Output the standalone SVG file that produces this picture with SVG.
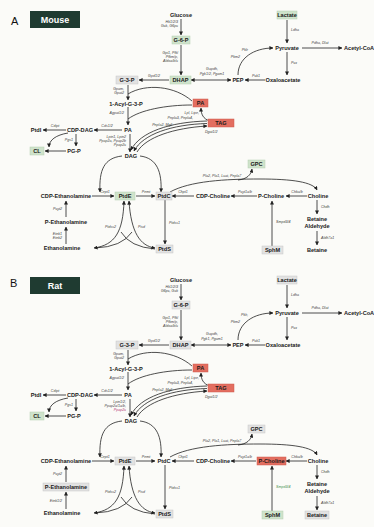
<svg xmlns="http://www.w3.org/2000/svg" width="374" height="527" viewBox="0 0 374 527">
<defs>
<marker id="ah" viewBox="0 0 10 10" refX="9" refY="5" markerWidth="4" markerHeight="4" markerUnits="userSpaceOnUse" orient="auto-start-reverse">
<path d="M0 0L10 5L0 10z" fill="#222"/>
</marker>
<style>
.m{font:bold 5.6px "Liberation Sans",Arial,sans-serif;fill:#1a1a1a;text-anchor:middle}
.g{font:italic 3.6px "Liberation Sans",Arial,sans-serif;fill:#3c3c3c}
.e{text-anchor:end}.c{text-anchor:middle}
.pk{fill:#b03070}.gr{fill:#3f8f4f}
.bg{fill:#cfe3cb;stroke:#b4ceb0;stroke-width:.5}
.bn{fill:#e2e2e2;stroke:#c6c6c6;stroke-width:.5}
.br{fill:#e36e60;stroke:#cd5b4e;stroke-width:.5}
.ln path{fill:none;stroke:#222;stroke-width:.8}
.tag{font:bold 9px "Liberation Sans",Arial,sans-serif;fill:#fff;text-anchor:middle}
.let{font:11px "Liberation Sans",Arial,sans-serif;fill:#111}
</style>
</defs>
<rect width="374" height="527" fill="#fbfbf8"/>

<!-- ===== Panel A: mouse ===== -->
<g id="panel-a">
<g id="a-title"><text class="let" x="11" y="25">A</text><rect x="30" y="11" width="50" height="17" fill="#1f3b31"/><text class="tag" x="55" y="22.5">Mouse</text></g>

<g id="a-links" class="ln">
<path d="M181 19V35" marker-end="url(#ah)"/>
<path d="M181 45V75" marker-end="url(#ah)"/>
<path d="M169 80H139" marker-end="url(#ah)"/>
<path d="M191 80H231" marker-start="url(#ah)" marker-end="url(#ah)"/>
<path d="M265 80H245" marker-end="url(#ah)"/>
<path d="M238 75C238 58 254 48 273 48" marker-end="url(#ah)"/>
<path d="M287 20V43" marker-end="url(#ah)"/>
<path d="M287 52V75" marker-end="url(#ah)"/>
<path d="M302 48H342" marker-end="url(#ah)"/>
<path d="M128 85V100" marker-end="url(#ah)"/>
<path d="M128 107V125" marker-end="url(#ah)"/>
<path d="M192 101C175 86 146 83 128 94"/>
<path d="M192 105C166 105 140 110 128 119"/>
<path d="M210 121C203 119 201 114 201 108" marker-end="url(#ah)"/>
<path d="M207 121C170 122 140 132 131 150" marker-end="url(#ah)"/>
<path d="M207 123.5C172 124.5 143 134 134 151" marker-end="url(#ah)"/>
<path d="M137 152C146 137 174 128 207 126" marker-end="url(#ah)"/>
<path d="M122 130H94" marker-end="url(#ah)"/>
<path d="M66 130H43" marker-end="url(#ah)"/>
<path d="M76 134V146" marker-end="url(#ah)"/>
<path d="M66 151H45" marker-end="url(#ah)"/>
<path d="M68 133C56 135 49 140 49 147" marker-end="url(#ah)"/>
<path d="M130 134V152" marker-end="url(#ah)"/>
<path d="M122 156C104 158 99 170 100 192" marker-end="url(#ah)"/>
<path d="M140 156C157 158 162 172 161 192" marker-end="url(#ah)"/>
<path d="M92 196H114" marker-end="url(#ah)"/>
<path d="M136 196H155" marker-end="url(#ah)"/>
<path d="M194 196H172" marker-end="url(#ah)"/>
<path d="M257 196H231" marker-end="url(#ah)"/>
<path d="M307 196H286" marker-end="url(#ah)"/>
<path d="M317 200V214" marker-end="url(#ah)"/>
<path d="M317 231V245" marker-end="url(#ah)"/>
<path d="M272 246V201" marker-end="url(#ah)"/>
<path d="M170 192C190 181 225 179 260 179C292 179 313 182 317 190" marker-end="url(#ah)"/>
<path d="M238 180C247 179 251 175 252 169" marker-end="url(#ah)"/>
<path d="M165 200V244" marker-end="url(#ah)"/>
<path d="M124 201C123 232 115 245 94 248" marker-start="url(#ah)" marker-end="url(#ah)"/>
<path d="M129 201C131 232 140 246 155 248" marker-start="url(#ah)" marker-end="url(#ah)"/>
<path d="M121 232Q130 247 155 249"/>
<path d="M132 232Q122 247 95 248"/>
<path d="M66 217V201" marker-end="url(#ah)"/>
<path d="M66 244V227" marker-end="url(#ah)"/>
</g>

<g id="a-enzymes">
<text class="g e" x="178" y="23">Hk1/2/3</text><text class="g e" x="178" y="27">Gck, G6pc</text>
<text class="g e" x="178" y="54">Gpi1, Pfkl</text><text class="g e" x="178" y="58">Pfkm/p,</text><text class="g e" x="178" y="62">Aldoa/b/c</text>
<text class="g c" x="154" y="77">Gpd1/2</text>
<text class="g c" x="212" y="70">Gapdh,</text><text class="g c" x="212" y="75">Pgk1/2, Pgam1</text>
<text class="g c" x="256" y="77">Pck1</text>
<text class="g e" x="248" y="51">Pklr</text><text class="g e" x="240" y="58">Pkm2</text>
<text class="g" x="291" y="31">Ldha</text>
<text class="g" x="291" y="64">Pcx</text>
<text class="g c" x="320" y="44">Pdha, Dlat</text>
<text class="g e" x="124" y="90">Gpam,</text><text class="g e" x="124" y="94">Gpat2</text>
<text class="g e" x="124" y="114">Agpat1/2</text>
<text class="g e" x="199" y="114">Lpl, Lipe,</text><text class="g e" x="193" y="119">Pnpla3, Pnpla4,</text><text class="g e" x="172" y="126">Pnpla2, Mgll</text>
<text class="g" x="205" y="133">Dgat1/2</text>
<text class="g c" x="107" y="127">Cds1/2</text>
<text class="g c" x="55" y="127">Cdipt</text>
<text class="g e" x="73" y="141">Pgs1</text>
<text class="g e" x="126" y="138">Lpin1, Lpin2</text><text class="g e" x="126" y="142">Ppap2a, Ppap2b</text><text class="g e" x="126" y="146">Ppap2c</text>
<text class="g c" x="105" y="193">Cept1</text>
<text class="g c" x="146" y="193">Pemt</text>
<text class="g c" x="183" y="193">Chpt1</text>
<text class="g c" x="245" y="193">Pcyt1a/b</text>
<text class="g c" x="297" y="193">Chka/b</text>
<text class="g" x="321" y="208">Chdh</text>
<text class="g" x="321" y="239">Aldh7a1</text>
<text class="g" x="276" y="223">Smpd3/4</text>
<text class="g c" x="222" y="177">Pla2, Pla1, Lcat, Pnpla7</text>
<text class="g" x="169" y="224">Ptdss1</text>
<text class="g e" x="116" y="228">Ptdss2</text>
<text class="g" x="138" y="228">Pisd</text>
<text class="g e" x="62" y="210">Pcyt2</text>
<text class="g e" x="62" y="235">Etnk1</text><text class="g e" x="62" y="239">Etnk2</text>
</g>

<g id="a-glucose"><text class="m" x="181" y="17">Glucose</text></g>
<g id="a-g6p"><rect class="bg" x="172" y="36" width="18" height="8"/><text class="m" x="181" y="42">G-6-P</text></g>
<g id="a-dhap"><rect class="bg" x="170" y="76" width="21" height="8"/><text class="m" x="180.5" y="82">DHAP</text></g>
<g id="a-g3p"><rect class="bn" x="116" y="76" width="22" height="8"/><text class="m" x="127" y="82">G-3-P</text></g>
<g id="a-pep"><text class="m" x="238" y="82">PEP</text></g>
<g id="a-oaa"><text class="m" x="283" y="82">Oxaloacetate</text></g>
<g id="a-pyruvate"><text class="m" x="287" y="50">Pyruvate</text></g>
<g id="a-lactate"><rect class="bg" x="277" y="11" width="20" height="8"/><text class="m" x="287" y="17">Lactate</text></g>
<g id="a-acetylcoa"><text class="m" x="344" y="50" style="text-anchor:start">Acetyl-CoA</text></g>
<g id="a-acylg3p"><text class="m" x="126" y="106">1-Acyl-G-3-P</text></g>
<g id="a-pa-red"><rect class="br" x="193" y="99" width="15" height="8"/><text class="m" x="200.5" y="105">PA</text></g>
<g id="a-tag"><rect class="br" x="208" y="119" width="26" height="8"/><text class="m" x="221" y="125">TAG</text></g>
<g id="a-pa"><text class="m" x="128" y="132">PA</text></g>
<g id="a-cdpdag"><text class="m" x="80" y="132">CDP-DAG</text></g>
<g id="a-ptdi"><text class="m" x="36" y="132">PtdI</text></g>
<g id="a-pgp"><text class="m" x="74" y="153">PG-P</text></g>
<g id="a-cl"><rect class="bg" x="30" y="147" width="14" height="8"/><text class="m" x="37" y="153">CL</text></g>
<g id="a-dag"><text class="m" x="131" y="158">DAG</text></g>
<g id="a-cdpetn"><text class="m" x="66" y="198">CDP-Ethanolamine</text></g>
<g id="a-ptde"><rect class="bg" x="115" y="192" width="20" height="8"/><text class="m" x="125" y="198">PtdE</text></g>
<g id="a-ptdc"><rect class="bn" x="156" y="192" width="16" height="8"/><text class="m" x="164" y="198">PtdC</text></g>
<g id="a-cdpcho"><text class="m" x="213" y="198">CDP-Choline</text></g>
<g id="a-pcho"><text class="m" x="271" y="198">P-Choline</text></g>
<g id="a-choline"><text class="m" x="318" y="198">Choline</text></g>
<g id="a-gpc"><rect class="bg" x="248" y="160" width="17" height="8"/><text class="m" x="256.5" y="166">GPC</text></g>
<g id="a-betald"><text class="m" x="317" y="221">Betaine</text><text class="m" x="317" y="228">Aldehyde</text></g>
<g id="a-betaine"><text class="m" x="317" y="252">Betaine</text></g>
<g id="a-sphm"><rect class="bn" x="262" y="246" width="21" height="8"/><text class="m" x="272.5" y="252">SphM</text></g>
<g id="a-ptds"><rect class="bn" x="156" y="245" width="17" height="8"/><text class="m" x="164.5" y="251">PtdS</text></g>
<g id="a-petn"><text class="m" x="66" y="224">P-Ethanolamine</text></g>
<g id="a-etn"><text class="m" x="62" y="250">Ethanolamine</text></g>
</g>

<!-- ===== Panel B: rat (same layout shifted down) ===== -->
<g id="panel-b" transform="translate(0 265)">
<g id="b-title"><text class="let" x="10" y="22">B</text><rect x="30" y="12" width="50" height="17" fill="#1f3b31"/><text class="tag" x="55" y="23.5">Rat</text></g>

<g id="b-links" class="ln">
<path d="M181 19V35" marker-end="url(#ah)"/>
<path d="M181 45V75" marker-end="url(#ah)"/>
<path d="M169 80H139" marker-end="url(#ah)"/>
<path d="M191 80H231" marker-start="url(#ah)" marker-end="url(#ah)"/>
<path d="M265 80H245" marker-end="url(#ah)"/>
<path d="M238 75C238 58 254 48 273 48" marker-end="url(#ah)"/>
<path d="M287 20V43" marker-end="url(#ah)"/>
<path d="M287 52V75" marker-end="url(#ah)"/>
<path d="M302 48H342" marker-end="url(#ah)"/>
<path d="M128 85V100" marker-end="url(#ah)"/>
<path d="M128 107V125" marker-end="url(#ah)"/>
<path d="M192 101C175 86 146 83 128 94"/>
<path d="M192 105C166 105 140 110 128 119"/>
<path d="M210 121C203 119 201 114 201 108" marker-end="url(#ah)"/>
<path d="M207 121C170 122 140 132 131 150" marker-end="url(#ah)"/>
<path d="M207 123.5C172 124.5 143 134 134 151" marker-end="url(#ah)"/>
<path d="M137 152C146 137 174 128 207 126" marker-end="url(#ah)"/>
<path d="M122 130H94" marker-end="url(#ah)"/>
<path d="M66 130H43" marker-end="url(#ah)"/>
<path d="M76 134V146" marker-end="url(#ah)"/>
<path d="M66 151H45" marker-end="url(#ah)"/>
<path d="M68 133C56 135 49 140 49 147" marker-end="url(#ah)"/>
<path d="M130 134V152" marker-end="url(#ah)"/>
<path d="M122 156C104 158 99 170 100 192" marker-end="url(#ah)"/>
<path d="M140 156C157 158 162 172 161 192" marker-end="url(#ah)"/>
<path d="M92 196H114" marker-end="url(#ah)"/>
<path d="M136 196H155" marker-end="url(#ah)"/>
<path d="M194 196H172" marker-end="url(#ah)"/>
<path d="M256 196H231" marker-end="url(#ah)"/>
<path d="M307 196H286" marker-end="url(#ah)"/>
<path d="M317 200V214" marker-end="url(#ah)"/>
<path d="M317 231V245" marker-end="url(#ah)"/>
<path d="M272 246V201" marker-end="url(#ah)"/>
<path d="M170 192C190 181 225 179 260 179C292 179 313 182 317 190" marker-end="url(#ah)"/>
<path d="M238 180C247 179 251 175 252 169" marker-end="url(#ah)"/>
<path d="M165 200V244" marker-end="url(#ah)"/>
<path d="M124 201C123 232 115 245 94 248" marker-start="url(#ah)" marker-end="url(#ah)"/>
<path d="M129 201C131 232 140 246 155 248" marker-start="url(#ah)" marker-end="url(#ah)"/>
<path d="M121 232Q130 247 155 249"/>
<path d="M132 232Q122 247 95 248"/>
<path d="M66 217V201" marker-end="url(#ah)"/>
<path d="M66 244V227" marker-end="url(#ah)"/>
</g>

<g id="b-enzymes">
<text class="g e" x="178" y="23">Hk1/2/3</text><text class="g e" x="178" y="27">G6pc, Gck</text>
<text class="g e" x="178" y="54">Gpi1, Pfkl</text><text class="g e" x="178" y="58">Pfkm/p,</text><text class="g e" x="178" y="62">Aldoa/b/c</text>
<text class="g c" x="154" y="77">Gpd1/2</text>
<text class="g c" x="212" y="70">Gapdh,</text><text class="g c" x="212" y="75">Pgk1, Pgam1</text>
<text class="g c" x="256" y="77">Pck1</text>
<text class="g e" x="248" y="51">Pklr,</text><text class="g e" x="240" y="58">Pkm2</text>
<text class="g" x="291" y="31">Ldha</text>
<text class="g" x="291" y="64">Pcx</text>
<text class="g c" x="320" y="44">Pdha, Dlat</text>
<text class="g e" x="124" y="90">Gpam,</text><text class="g e" x="124" y="94">Gpat2</text>
<text class="g e" x="124" y="114">Agpat1/2</text>
<text class="g e" x="199" y="114">Lpl, Lipe,</text><text class="g e" x="193" y="119">Pnpla3, Pnpla4,</text><text class="g e" x="172" y="126">Pnpla2, Mgll</text>
<text class="g" x="205" y="133">Dgat1/2</text>
<text class="g c" x="107" y="127">Cds1/2</text>
<text class="g c" x="55" y="127">Cdipt</text>
<text class="g e" x="73" y="141">Pgs1</text>
<text class="g e" x="126" y="138">Lpin1/2,</text><text class="g e" x="126" y="142">Ppap2a/1a/b,</text><text class="g e pk" x="126" y="146">Ppap2c</text>
<text class="g c" x="105" y="193">Cept1</text>
<text class="g c" x="146" y="193">Pemt</text>
<text class="g c" x="183" y="193">Chpt1</text>
<text class="g c" x="245" y="193">Pcyt1a/b</text>
<text class="g c" x="297" y="193">Chka/b</text>
<text class="g" x="321" y="208">Chdh</text>
<text class="g" x="321" y="239">Aldh7a1</text>
<text class="g gr" x="276" y="223">Smpd3/4</text>
<text class="g c" x="222" y="177">Pla2, Pla1, Lcat, Pnpla7</text>
<text class="g" x="169" y="224">Ptdss1</text>
<text class="g e" x="116" y="228">Ptdss2</text>
<text class="g" x="138" y="228">Pisd</text>
<text class="g e" x="62" y="210">Pcyt2</text>
<text class="g e" x="62" y="237">Etnk1/2</text>
</g>

<g id="b-glucose"><text class="m" x="181" y="17">Glucose</text></g>
<g id="b-g6p"><rect class="bn" x="172" y="36" width="18" height="8"/><text class="m" x="181" y="42">G-6-P</text></g>
<g id="b-dhap"><rect class="bn" x="170" y="76" width="21" height="8"/><text class="m" x="180.5" y="82">DHAP</text></g>
<g id="b-g3p"><rect class="bn" x="116" y="76" width="22" height="8"/><text class="m" x="127" y="82">G-3-P</text></g>
<g id="b-pep"><text class="m" x="238" y="82">PEP</text></g>
<g id="b-oaa"><text class="m" x="283" y="82">Oxaloacetate</text></g>
<g id="b-pyruvate"><text class="m" x="287" y="50">Pyruvate</text></g>
<g id="b-lactate"><rect class="bn" x="277" y="11" width="20" height="8"/><text class="m" x="287" y="17">Lactate</text></g>
<g id="b-acetylcoa"><text class="m" x="344" y="50" style="text-anchor:start">Acetyl-CoA</text></g>
<g id="b-acylg3p"><text class="m" x="126" y="106">1-Acyl-G-3-P</text></g>
<g id="b-pa-red"><rect class="br" x="193" y="99" width="15" height="8"/><text class="m" x="200.5" y="105">PA</text></g>
<g id="b-tag"><rect class="br" x="208" y="119" width="26" height="8"/><text class="m" x="221" y="125">TAG</text></g>
<g id="b-pa"><text class="m" x="128" y="132">PA</text></g>
<g id="b-cdpdag"><text class="m" x="80" y="132">CDP-DAG</text></g>
<g id="b-ptdi"><text class="m" x="36" y="132">PtdI</text></g>
<g id="b-pgp"><text class="m" x="74" y="153">PG-P</text></g>
<g id="b-cl"><rect class="bg" x="30" y="147" width="14" height="8"/><text class="m" x="37" y="153">CL</text></g>
<g id="b-dag"><text class="m" x="131" y="158">DAG</text></g>
<g id="b-cdpetn"><text class="m" x="66" y="198">CDP-Ethanolamine</text></g>
<g id="b-ptde"><rect class="bn" x="115" y="192" width="20" height="8"/><text class="m" x="125" y="198">PtdE</text></g>
<g id="b-ptdc"><text class="m" x="164" y="198">PtdC</text></g>
<g id="b-cdpcho"><text class="m" x="213" y="198">CDP-Choline</text></g>
<g id="b-pcho"><rect class="br" x="257" y="192" width="29" height="8"/><text class="m" x="271.5" y="198">P-Choline</text></g>
<g id="b-choline"><text class="m" x="318" y="198">Choline</text></g>
<g id="b-gpc"><rect class="bn" x="248" y="160" width="17" height="8"/><text class="m" x="256.5" y="166">GPC</text></g>
<g id="b-betald"><text class="m" x="317" y="221">Betaine</text><text class="m" x="317" y="228">Aldehyde</text></g>
<g id="b-betaine"><rect class="bn" x="305" y="246" width="24" height="8"/><text class="m" x="317" y="252">Betaine</text></g>
<g id="b-sphm"><rect class="bg" x="262" y="246" width="21" height="8"/><text class="m" x="272.5" y="252">SphM</text></g>
<g id="b-ptds"><rect class="bn" x="156" y="245" width="17" height="8"/><text class="m" x="164.5" y="251">PtdS</text></g>
<g id="b-petn"><rect class="bn" x="43" y="218" width="46" height="8"/><text class="m" x="66" y="224">P-Ethanolamine</text></g>
<g id="b-etn"><text class="m" x="62" y="250">Ethanolamine</text></g>
</g>
</svg>
